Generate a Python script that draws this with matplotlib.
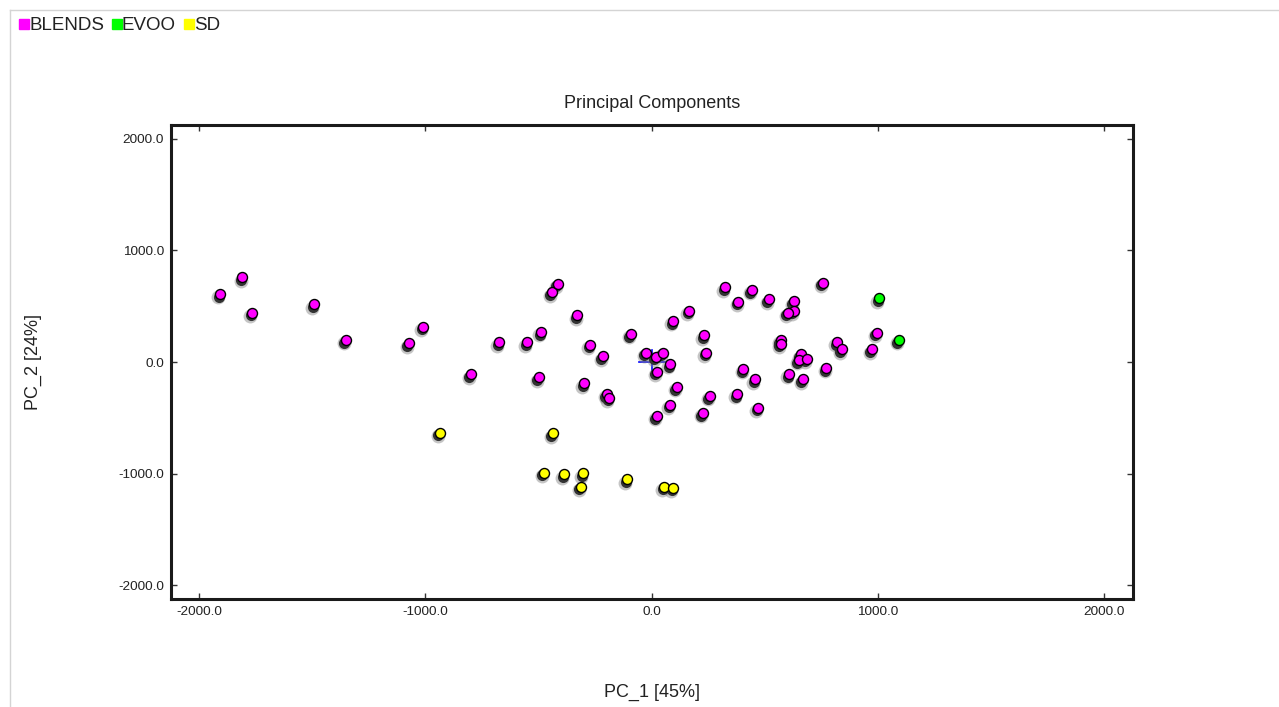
import numpy as np
import matplotlib
matplotlib.use("Agg")
import matplotlib.pyplot as plt
import matplotlib.transforms as mtrans
from matplotlib.lines import Line2D

plt.rcParams['font.family'] = ['Liberation Sans', 'DejaVu Sans']

# scores
blends_x = [-1908, -1809, -1766, -1492, -1353, -1073, -1010, -799, -674, -550,
            -488, -499, -441, -416, -328, -298, -272, -216, -198, -188,
            -92, -27, 19, 50, 82, 22, 96, 167, 232, 241,
            111, 82, 22, 225, 256, 325, 384, 443, 518, 757,
            628, 628, 603, 379, 406, 458, 472, 572, 572, 659,
            650, 687, 609, 668, 773, 820, 840, 974, 995]
blends_y = [610, 760, 442, 518, 197, 168, 317, -110, 177, 177,
            269, -137, 625, 702, 419, -191, 155, 51, -287, -320,
            251, 85, 48, 83, -18, -87, 368, 460, 240, 83,
            -224, -383, -484, -457, -305, 670, 541, 646, 562, 711,
            543, 460, 442, -287, -63, -155, -410, 197, 166, 69,
            18, 30, -108, -155, -54, 179, 114, 114, 263]
evoo_x = [1006, 1093]
evoo_y = [570, 197]
sd_x = [-937, -437, -478, -387, -303, -313, -107, 55, 96]
sd_y = [-632, -640, -993, -1007, -998, -1118, -1052, -1118, -1127]

groups = ["BLENDS", "EVOO", "SD"]
colors = ["#ff00ff", "#00ff00", "#ffff00"]

fig = plt.figure(figsize=(12.79, 7.07), dpi=100)
ax = fig.add_axes([0.1337, 0.1527, 0.7521, 0.6705])

# panel border lines
fig.add_artist(Line2D([0.008, 1.0], [0.986, 0.986], transform=fig.transFigure,
                      color="#d4d4d4", lw=1))
fig.add_artist(Line2D([0.008, 0.008], [0.0, 0.986], transform=fig.transFigure,
                      color="#d4d4d4", lw=1))

# origin cross
ax.plot([-57, 57], [0, 0], color="#0000ff", lw=1.2, zorder=1)
ax.plot([0, 0], [-110, 110], color="#0000ff", lw=1.2, zorder=1)

sh1 = ax.transData + mtrans.ScaledTranslation(-1.4 / 72, -2.4 / 72, fig.dpi_scale_trans)
sh2 = ax.transData + mtrans.ScaledTranslation(-1.1 / 72, -1.9 / 72, fig.dpi_scale_trans)

data = [(blends_x, blends_y), (evoo_x, evoo_y), (sd_x, sd_y)]
for (xs, ys), c in zip(data, colors):
    ax.scatter(xs, ys, s=100, color="#808080", alpha=0.45, lw=0, transform=sh1, zorder=2)
    ax.scatter(xs, ys, s=64, color="#333333", lw=0, transform=sh2, zorder=2)
    ax.scatter(xs, ys, s=52, color=c, edgecolors="black", linewidths=1.0, zorder=3)

ax.set_xlim(-2125, 2128)
ax.set_ylim(-2125, 2125)
ticks = [-2000, -1000, 0, 1000, 2000]
ax.set_xticks(ticks)
ax.set_yticks(ticks)
ax.set_xticklabels(["%.1f" % t for t in ticks])
ax.set_yticklabels(["%.1f" % t for t in ticks])
ax.tick_params(direction="in", length=4, width=1, top=True, right=True,
               labelsize=9.7, colors="#333333", labelcolor="#222222", pad=5)
for sp in ax.spines.values():
    sp.set_linewidth(2.2)
    sp.set_color("#1a1a1a")

ax.set_title("Principal Components", fontsize=13, color="#222222", pad=12)
ax.set_xlabel("PC_1 [45%]", fontsize=13, color="#222222")
ax.set_ylabel("PC_2 [24%]", fontsize=13, color="#222222")
ax.xaxis.set_label_coords(0.5, -0.178)
ax.yaxis.set_label_coords(-0.1435, 0.5)
ax.yaxis.label.set_va("center")

handles = [Line2D([], [], marker="s", linestyle="", color=c, markersize=6.5) for c in colors]
fig.legend(handles, groups, loc="upper left", bbox_to_anchor=(0.0125, 0.981),
           ncol=3, frameon=False, handlelength=0.45, handletextpad=0.05,
           columnspacing=0.45, fontsize=13.5, borderaxespad=0, borderpad=0.2,
           labelcolor="#222222")

fig.savefig("out.png", dpi=100)
